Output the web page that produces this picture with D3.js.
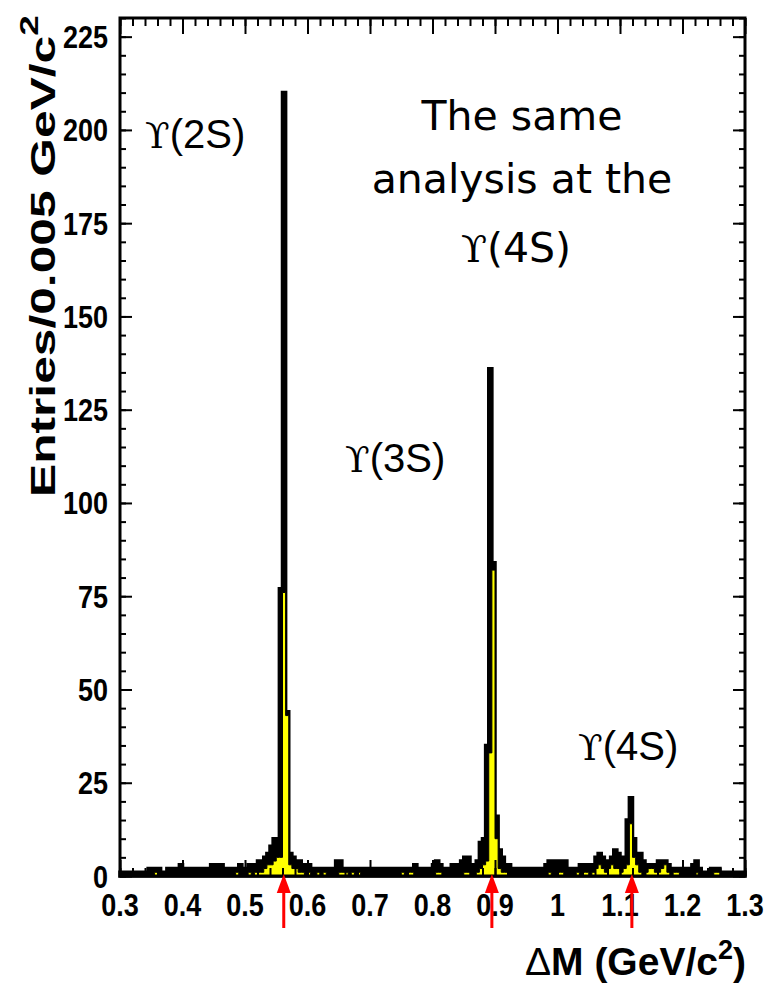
<!DOCTYPE html>
<html><head><meta charset="utf-8">
<script src="https://cdn.jsdelivr.net/npm/d3@7"></script>
<style>body{margin:0;background:#fff}svg{display:block}</style>
</head><body>
<svg id="c" width="767" height="986"></svg>
<script>
// ---- data ----
const binLow = 0.3, binWidth = 0.005;
// black histogram (all candidates), 200 bins of 0.005 from 0.300
const blackCounts = [
  1,1,1,1,0,1,1,1,1,2, 2,2,2,1,1,2,2,1,2,3,          // 0.30-0.395
  2,1,2,2,1,2,2,2,2,3, 2,3,3,2,2,1,2,2,3,2,          // 0.40-0.495
  2,3,3,2,4,4,5,6,8,10, 10,77,210,44,6,5,4,4,3,3,    // 0.50-0.595
  3,2,2,2,1,2,2,1,2,4, 4,2,2,2,2,1,2,1,2,2,          // 0.60-0.695
  2,1,2,2,1,2,2,1,2,2, 1,2,2,2,3,2,2,1,2,2,          // 0.70-0.795
  3,4,3,2,2,2,3,2,3,4, 5,5,3,3,4,9,10,35,136,84,     // 0.80-0.895
  16,7,5,3,3,2,2,1,2,2, 1,2,1,2,2,2,3,4,3,4,         // 0.90-0.995
  3,4,4,2,2,2,2,3,3,3, 3,3,5,6,5,4,4,5,7,6,          // 1.00-1.095
  5,4,15,21,10,6,6,4,3,3, 3,3,4,4,4,3,2,2,2,2,       // 1.10-1.195
  2,2,2,3,4,2,1,1,1,2, 2,2,1,1,1,1,1,1,1,1           // 1.20-1.295
];
// yellow histogram (selected subset)
const yellowCounts = [
  0,0,0,0,0,0,0,0,0,0, 0,1,0,0,0,0,0,0,0,0,
  0,0,0,0,0,0,0,0,0,0, 0,0,0,0,0,0,0,1,0,0,
  0,1,0,1,1,1,2,3,3,4, 5,5,76,43,3,2,2,1,1,0,
  1,0,0,1,0,1,0,0,0,0, 1,1,1,0,1,0,1,0,0,0,
  0,0,0,0,0,0,0,0,0,0, 1,0,1,1,0,0,0,0,0,0,
  0,1,1,0,0,0,0,0,0,0, 1,1,0,0,1,2,3,4,33,82,
  10,2,1,1,0,0,0,0,0,0, 0,0,0,0,0,0,0,1,0,0,
  1,1,0,0,0,0,1,0,1,1, 0,1,2,3,2,1,2,3,2,2,
  1,2,3,14,5,3,1,0,1,2, 2,1,1,2,3,1,0,1,1,0,
  0,0,0,0,1,0,0,0,0,0, 1,1,0,0,0,0,0,0,0,0
];
const peakArrows = [0.562, 0.895, 1.119];
const xTickValues = [0.3,0.4,0.5,0.6,0.7,0.8,0.9,1.0,1.1,1.2,1.3];
const xTickLabels = ["0.3","0.4","0.5","0.6","0.7","0.8","0.9","1","1.1","1.2","1.3"];
const yTickValues = [0,25,50,75,100,125,150,175,200,225];
const yTickLabels = ["0","25","50","75","100","125","150","175","200","225"];
const peakNames = ["(2S)","(3S)","(4S)"];

// ---- drawing ----
const svg = d3.select("#c");
const L = 120, R = 745, T = 18, B = 876;
const x = d3.scaleLinear().domain([0.3, 1.3]).range([L, R]);
const y = d3.scaleLinear().domain([0, 230]).range([B, T]);

function steps(counts) {
  const pts = counts.map((c, i) => [binLow + i * binWidth, c]);
  pts.push([binLow + counts.length * binWidth, counts[counts.length - 1]]);
  return pts;
}
const area = d3.area().x(d => x(d[0])).y0(y(0)).y1(d => y(d[1])).curve(d3.curveStepAfter);

svg.append("path").attr("d", area(steps(blackCounts)))
  .attr("fill", "#000").attr("stroke", "#000").attr("stroke-width", 3.5);
svg.append("path").attr("d", area(steps(yellowCounts)))
  .attr("fill", "#ffff00").attr("stroke", "#000").attr("stroke-width", 1);

// axes ticks
function tickAxis(axis, tx, ty) {
  const g = svg.append("g").attr("transform", `translate(${tx},${ty})`).call(axis);
  g.select(".domain").remove();
  g.selectAll("line").attr("stroke", "#000").attr("stroke-width", 2);
  g.selectAll("text").remove();
  return g;
}
const yMinor = d3.range(0, 231, 5);
const xMinor = d3.range(0, 51).map(i => 0.3 + i * 0.02);
tickAxis(d3.axisRight(y).tickValues(yMinor).tickSize(6), L, 0);
tickAxis(d3.axisRight(y).tickValues(yTickValues).tickSize(12), L, 0);
tickAxis(d3.axisLeft(y).tickValues(yMinor).tickSize(6), R, 0);
tickAxis(d3.axisLeft(y).tickValues(yTickValues).tickSize(12), R, 0);
tickAxis(d3.axisTop(x).tickValues(xMinor).tickSize(8), 0, B);
tickAxis(d3.axisTop(x).tickValues(xTickValues).tickSize(16), 0, B);
tickAxis(d3.axisBottom(x).tickValues(xMinor).tickSize(8), 0, T);
tickAxis(d3.axisBottom(x).tickValues(xTickValues).tickSize(16), 0, T);

// frame
svg.append("rect").attr("x", L).attr("y", T).attr("width", R - L).attr("height", B - T)
  .attr("fill", "none").attr("stroke", "#000").attr("stroke-width", 3);

const sans = "'Liberation Sans', Arial, Helvetica, sans-serif";
// tick labels
yTickValues.forEach((v, i) => {
  svg.append("text").attr("transform", `translate(108,${y(v) + 11.5}) scale(1,1.19)`)
    .attr("text-anchor", "end").attr("font-family", sans).attr("font-weight", "bold")
    .attr("font-size", 27).text(yTickLabels[i]);
});
xTickValues.forEach((v, i) => {
  svg.append("text").attr("transform", `translate(${x(v)},916) scale(1,1.19)`)
    .attr("text-anchor", "middle").attr("font-family", sans).attr("font-weight", "bold")
    .attr("font-size", 27).text(xTickLabels[i]);
});

// y title
const yt = svg.append("g").attr("transform", "translate(55,497) rotate(-90) scale(1.42,1)")
  .append("text").attr("font-family", sans).attr("font-weight", "bold").attr("font-size", 35);
yt.append("tspan").text("Entries/0.005 GeV/c");
yt.append("tspan").attr("font-size", 26).attr("dy", -17).text("2");

// x title
const xt = svg.append("text").attr("x", 525).attr("y", 975)
  .attr("font-family", sans).attr("font-weight", "bold").attr("font-size", 39);
xt.append("tspan").attr("font-weight", "normal").text("\u0394");
xt.append("tspan").text("M (GeV/c");
xt.append("tspan").attr("font-size", 27).attr("dy", -16).text("2");
xt.append("tspan").attr("dy", 16).text(")");

// peak labels
const serif = "'DejaVu Serif', 'Liberation Serif', serif";
const labelPos = [[145, 148], [345, 472], [578, 760]];
peakNames.forEach((n, i) => {
  const t = svg.append("text").attr("x", labelPos[i][0]).attr("y", labelPos[i][1]);
  t.append("tspan").attr("font-family", serif).attr("font-size", 36).text("\u03D2");
  t.append("tspan").attr("font-family", sans).attr("font-size", 40).text(n);
});

// comment text
const comic = "'Comic Sans MS', 'DejaVu Sans', sans-serif";
svg.append("text").attr("x", 522).attr("y", 130).attr("text-anchor", "middle")
  .attr("font-family", comic).attr("font-size", 41).text("The same");
svg.append("text").attr("x", 522).attr("y", 193).attr("text-anchor", "middle")
  .attr("font-family", comic).attr("font-size", 41).text("analysis at the");
const l3 = svg.append("text").attr("x", 516).attr("y", 262).attr("text-anchor", "middle");
l3.append("tspan").attr("font-family", serif).attr("font-size", 38).text("\u03D2");
l3.append("tspan").attr("font-family", comic).attr("font-size", 41).text("(4S)");

// red arrows
peakArrows.forEach(p => {
  const cx = x(p);
  svg.append("rect").attr("x", cx - 1.5).attr("y", 888).attr("width", 3).attr("height", 40).attr("fill", "#ff0000");
  svg.append("path").attr("d", `M${cx},874 L${cx - 7},893 L${cx + 7},893 Z`).attr("fill", "#ff0000");
});
</script>
</body></html>
